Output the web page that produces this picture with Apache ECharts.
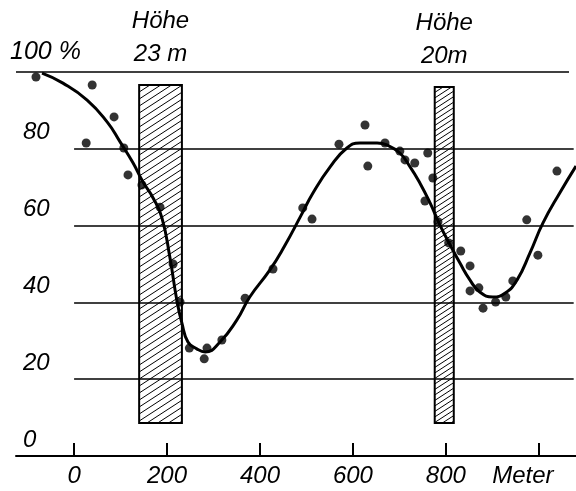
<!DOCTYPE html>
<html>
<head>
<meta charset="utf-8">
<script src="https://cdn.jsdelivr.net/npm/echarts@6/dist/echarts.min.js"></script>
<style>
html, body { margin: 0; padding: 0; background: #fff; }
#main { width: 576px; height: 491px; }
</style>
</head>
<body>
<div id="main"></div>
<script>
// Messpunkte (Meter, %)
var dotM = [-82, 39, 86, 26, 107, 116, 146, 185, 213, 228, 248, 280, 286, 318, 368, 428,
  492, 512, 570, 626, 632, 669, 701, 712, 733, 761, 772, 755, 783, 806, 832, 852, 852,
  871, 880, 907, 929, 944, 974, 998, 1039];
var dotV = [98.7, 96.6, 88.3, 81.5, 80.2, 73.2, 70.6, 64.8, 50.0, 40.1, 28.1, 25.3, 28.1, 30.2, 41.1, 48.7,
  64.6, 61.7, 81.2, 86.2, 75.5, 81.5, 79.4, 77.1, 76.3, 78.9, 72.4, 66.4, 61.0, 55.5, 53.4, 49.5, 43.0,
  43.8, 38.5, 40.1, 41.4, 45.6, 61.5, 52.3, 74.2];

// Ausgleichskurve
var curveM = [-69, -24, 28, 71, 99, 127, 148, 170, 189, 206, 221, 232, 245, 264, 282, 314, 350, 378,
  421, 452, 489, 514, 551, 587, 615, 652, 673, 701, 723, 744, 766, 787, 809, 830, 852, 873, 901,
  927, 953, 981, 1009, 1045, 1080];
var curveV = [99.7, 97.1, 92.7, 87.0, 81.8, 76.3, 71.4, 67.2, 62.0, 51.8, 40.6, 34.6, 29.7, 27.9, 27.1, 29.7, 35.4, 41.4,
  48.4, 54.5, 62.8, 68.5, 75.3, 80.2, 81.5, 81.5, 81.0, 78.9, 75.3, 71.1, 65.9, 60.2, 55.0, 50.3, 45.8, 42.7, 41.4,
  42.4, 45.8, 52.9, 60.7, 68.5, 75.5];

// Hindernisse: von, bis (Meter), unten, oben (%)
var barFrom = [140, 776];
var barTo = [232, 817];
var barBottom = [8.6, 8.6];
var barTop = [96.6, 96.1];
var barLabels = ['Höhe\n23 m', 'Höhe\n20m'];

var xTicks = [0, 200, 400, 600, 800, 1000];
var gridValues = [20, 40, 60, 80, 100];

var font = 'Liberation Sans';
var myChart = echarts.init(document.getElementById('main'));

var dots = dotM.map(function (m, i) { return [m, dotV[i]]; });
var curve = curveM.map(function (m, i) { return [m, curveV[i]]; });
var bars = barFrom.map(function (f, i) { return [f, barTo[i], barBottom[i], barTop[i]]; });
var gridLines = gridValues.map(function (v) {
    return [{ coord: [v === 100 ? -125 : 0, v] }, { coord: [v === 100 ? 1065 : 1075, v] }];
});

var option = {
    backgroundColor: '#fff',
    animation: false,
    grid: { left: 16, right: 0, top: 72, bottom: 35 },
    graphic: [{
        type: 'text',
        left: 10,
        top: 40,
        style: { text: '100 %', font: 'italic 25px "' + font + '"', fill: '#000' }
    }],
    xAxis: {
        type: 'value',
        min: -125,
        max: 1080,
        splitLine: { show: false },
        axisLine: { lineStyle: { color: '#000', width: 2 } },
        axisTick: { inside: true, length: 13, customValues: xTicks, lineStyle: { color: '#000', width: 2 } },
        axisLabel: {
            customValues: xTicks,
            margin: 8,
            color: '#000',
            fontSize: 24,
            fontStyle: 'italic',
            fontFamily: font,
            formatter: function (v) { return v === 1000 ? '{m|Meter}' : String(v); },
            rich: { m: { fontSize: 24, fontStyle: 'italic', fontFamily: font, color: '#000', padding: [0, 32, 0, 0] } }
        }
    },
    yAxis: {
        type: 'value',
        min: 0,
        max: 100,
        interval: 20,
        splitLine: { show: false },
        axisLine: { show: false },
        axisTick: { show: false },
        axisLabel: {
            inside: true,
            margin: 7,
            color: '#000',
            fontSize: 24,
            fontStyle: 'italic',
            fontFamily: font,
            verticalAlign: 'bottom',
            padding: [0, 0, 4, 0],
            formatter: function (v) { return v === 100 ? '' : String(v); }
        }
    },
    series: [
        {
            type: 'custom',
            z: 1,
            data: bars,
            renderItem: function (params, api) {
                var p0 = api.coord([api.value(0), api.value(3)]);
                var p1 = api.coord([api.value(1), api.value(2)]);
                var x0 = p0[0], y0 = p0[1], x1 = p1[0], y1 = p1[1];
                var k = 0.65;
                var step = params.dataIndex === 0 ? 7 : 5.5;
                var children = [{
                    type: 'rect',
                    shape: { x: x0, y: y0, width: x1 - x0, height: y1 - y0 },
                    style: { fill: '#fff', stroke: '#000', lineWidth: 2 }
                }];
                for (var c = y0 + k * x0 + step; c < y1 + k * x1; c += step) {
                    var xa = Math.max(x0, (c - y1) / k);
                    var xb = Math.min(x1, (c - y0) / k);
                    if (xb <= xa) continue;
                    children.push({
                        type: 'line',
                        shape: { x1: xa, y1: c - k * xa, x2: xb, y2: c - k * xb },
                        style: { stroke: '#000', lineWidth: 1 }
                    });
                }
                children.push({
                    type: 'text',
                    style: {
                        x: (x0 + x1) / 2,
                        y: y0 - 14,
                        text: barLabels[params.dataIndex],
                        textAlign: 'center',
                        textVerticalAlign: 'bottom',
                        font: 'italic 24px "' + font + '"',
                        lineHeight: 33,
                        fill: '#000'
                    }
                });
                return { type: 'group', children: children };
            }
        },
        {
            type: 'line',
            z: 3,
            data: curve,
            smooth: 0.5,
            symbol: 'none',
            lineStyle: { color: '#000', width: 3 },
            markLine: {
                silent: true,
                symbol: 'none',
                label: { show: false },
                lineStyle: { color: '#000', width: 1.5, type: 'solid' },
                data: gridLines
            }
        },
        {
            type: 'scatter',
            z: 4,
            data: dots,
            symbolSize: 9,
            itemStyle: { color: '#000' }
        }
    ]
};

myChart.setOption(option);
</script>
</body>
</html>
